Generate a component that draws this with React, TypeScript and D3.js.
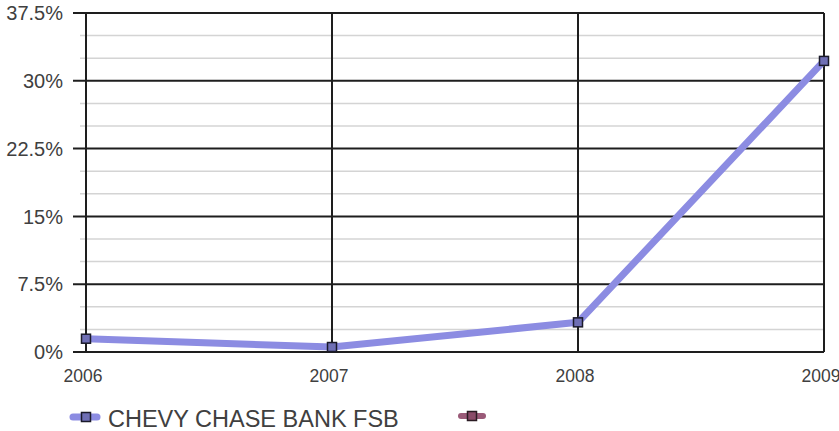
import React from "react";
import * as d3 from "d3";

const years = ["2006", "2007", "2008", "2009"];
const values = [1.47, 0.55, 3.28, 32.2];
const yMajorTicks = [0, 7.5, 15, 22.5, 30, 37.5];
const yTickLabels = ["0%", "7.5%", "15%", "22.5%", "30%", "37.5%"];
const yMinorTicks = [2.5, 5, 10, 12.5, 17.5, 20, 25, 27.5, 32.5, 35];
const seriesName = "CHEVY CHASE BANK FSB";

const W = 839;
const H = 431;
const left = 86;
const right = 824;
const top = 13;
const bottom = 352;

export default function App() {
  const x = d3.scalePoint<string>().domain(years).range([left, right]);
  const y = d3.scaleLinear().domain([0, 37.5]).range([bottom, top]);
  const line = d3
    .line<number>()
    .x((_, i) => x(years[i]) as number)
    .y((d) => y(d));
  const font = "'Liberation Sans', Arial, sans-serif";
  const textColor = "#404040";
  return (
    <svg
      width={W}
      height={H}
      style={{ position: "absolute", left: 0, top: 0, background: "#fff" }}
    >
      {yMinorTicks.map((t) => (
        <line
          key={"m" + t}
          x1={80}
          x2={right}
          y1={y(t)}
          y2={y(t)}
          stroke="#d4d4d4"
          strokeWidth={1.5}
        />
      ))}
      {yMajorTicks.map((t) => (
        <line
          key={"M" + t}
          x1={73}
          x2={right}
          y1={y(t)}
          y2={y(t)}
          stroke="#1e1e1e"
          strokeWidth={2}
        />
      ))}
      {years.map((yr) => (
        <line
          key={"v" + yr}
          x1={x(yr)}
          x2={x(yr)}
          y1={top}
          y2={bottom}
          stroke="#1e1e1e"
          strokeWidth={2}
        />
      ))}
      {yMajorTicks.map((t, i) => (
        <text
          key={"yl" + t}
          x={63}
          y={y(t)}
          dy="0.36em"
          textAnchor="end"
          fontFamily={font}
          fontSize={20}
          fill={textColor}
        >
          {yTickLabels[i]}
        </text>
      ))}
      {years.map((yr) => (
        <text
          key={"xl" + yr}
          x={(x(yr) as number) - 3}
          y={382}
          textAnchor="middle"
          fontFamily={font}
          fontSize={17.5}
          fill={textColor}
        >
          {yr}
        </text>
      ))}
      <path
        d={line(values) || ""}
        fill="none"
        stroke="#8c8ce2"
        strokeWidth={7}
        strokeLinejoin="round"
      />
      {values.map((v, i) => (
        <rect
          key={"p" + i}
          x={(x(years[i]) as number) - 4.5}
          y={y(v) - 4.5}
          width={9}
          height={9}
          fill="#6f6fb5"
          stroke="#1a1a2a"
          strokeWidth={1.5}
        />
      ))}
      {/* legend */}
      <line x1={73} x2={97} y1={417} y2={417} stroke="#8c8ce2" strokeWidth={7} strokeLinecap="round" />
      <rect x={81.5} y={412.5} width={9} height={9} fill="#6f6fb5" stroke="#1a1a2a" strokeWidth={1.5} />
      <text x={108} y={426.5} fontFamily={font} fontSize={23.5} fill={textColor}>
        {seriesName}
      </text>
      <line x1={461} x2={483} y1={416} y2={416} stroke="#9a5a78" strokeWidth={6} strokeLinecap="round" />
      <rect x={467.5} y={411.5} width={9} height={9} fill="#8a4a68" stroke="#2a1a22" strokeWidth={1.5} />
    </svg>
  );
}
